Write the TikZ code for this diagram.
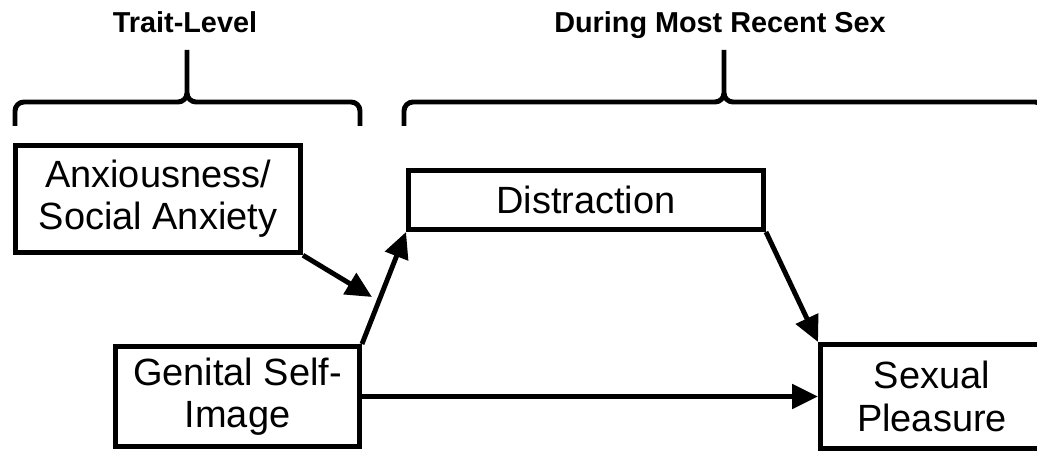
\documentclass[tikz,border=0pt]{standalone}
\usepackage{fontspec}
\setmainfont{Liberation Sans}
\usetikzlibrary{arrows.meta}
\begin{document}
\begin{tikzpicture}[
    varbox/.style={draw, line width=3.5pt, align=center, inner sep=0pt,
      font=\fontsize{27}{30}\selectfont},
    path/.style={line width=3.5pt, -{Triangle[length=0.65cm,width=0.6cm]}},
    bracket/.style={line width=3.5pt},
    period/.style={anchor=base, font=\bfseries\fontsize{20.5}{24}\selectfont}]
      \useasboundingbox (0,0) rectangle (25.925,11.375);
      % time frames
      \node[period] (trait) at (4.625,10.55)  {Trait-Level};
      \node[period] (during) at (18.0,10.55)  {During Most Recent Sex};
      % brackets
      \draw[bracket] (0.375,8.225) -- (0.375,8.6) to[out=90,in=180] (0.6,8.825)
            -- (4.45,8.825) to[out=0,in=-90] (4.675,9.05) -- (4.675,10.125);
      \draw[bracket] (4.675,9.05) to[out=-90,in=180] (4.9,8.825)
            -- (8.775,8.825) to[out=0,in=90] (9.0,8.6) -- (9.0,8.225);
      \draw[bracket] (10.1,8.225) -- (10.1,8.6) to[out=90,in=180] (10.325,8.825)
            -- (17.875,8.825) to[out=0,in=-90] (18.1,9.05) -- (18.1,10.125);
      \draw[bracket] (18.1,9.05) to[out=-90,in=180] (18.325,8.825)
            -- (25.875,8.825) to[out=0,in=90] (26.1,8.6) -- (26.1,8.225);
      % variables
      \node[varbox, minimum width=7.125cm, minimum height=2.69cm] (anx)
            at (3.95,6.4) {Anxiousness/\\Social Anxiety};
      \node[varbox, minimum width=8.875cm, minimum height=1.475cm] (dist)
            at (14.65,6.375) {Distraction};
      \node[varbox, minimum width=6.1cm, minimum height=2.5cm] (gen)
            at (5.9375,1.4625) {Genital Self-\\Image};
      \node[varbox, minimum width=5.575cm, minimum height=2.6cm] (sex)
            at (23.3,1.4625) {Sexual\\Pleasure};
      % paths
      \coordinate (mod) at (9.3,3.95);
      \draw[path] (anx.south east) -- (mod);
      \draw[path] (gen.north east) -- (dist.south west);
      \draw[path] (dist.south east) -- (sex.north west);
      \draw[path] (gen.east) -- (sex.west);
    \end{tikzpicture}
\end{document}
